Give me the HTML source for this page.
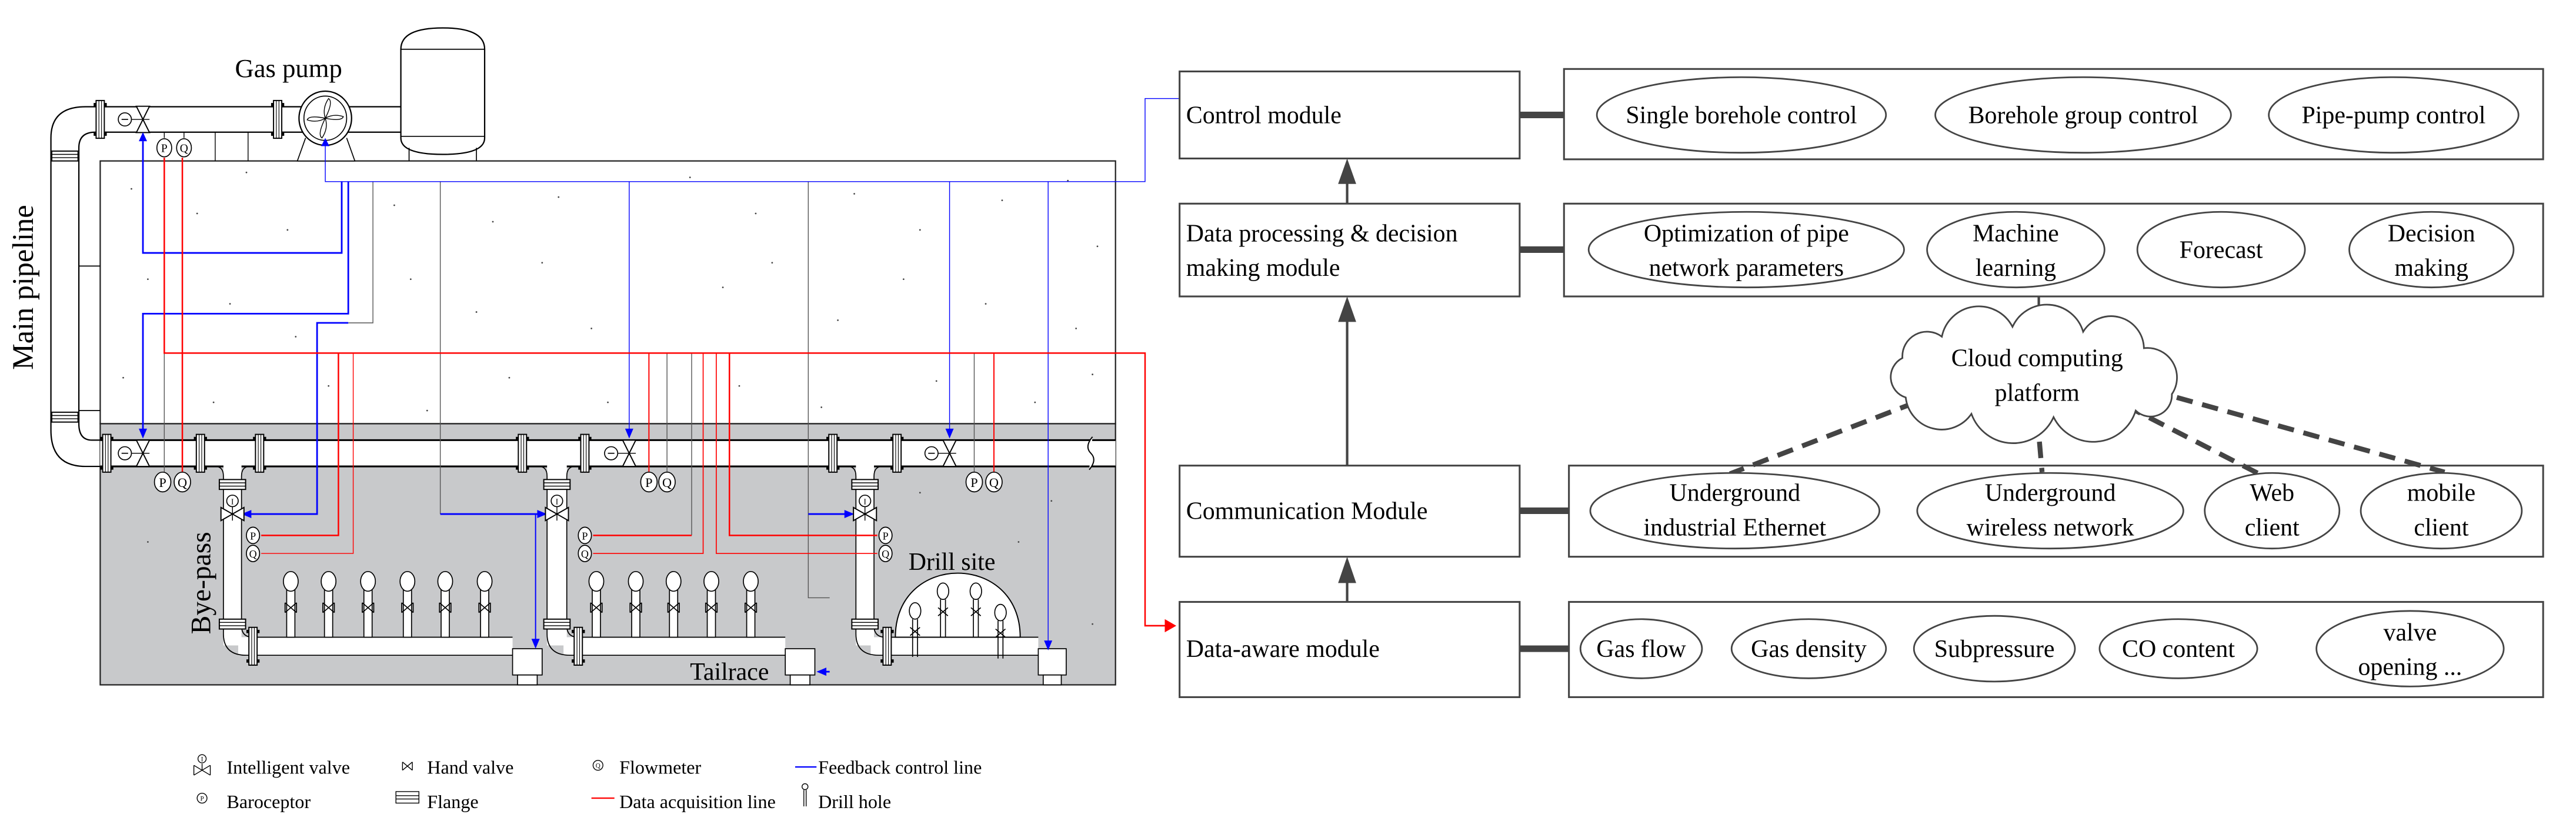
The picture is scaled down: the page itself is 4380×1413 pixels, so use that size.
<!DOCTYPE html>
<html><head><meta charset="utf-8"><style>
html,body{margin:0;padding:0;background:#fff;}
svg{display:block;font-family:"Liberation Serif","Times New Roman",serif;}
svg text{font-family:"Liberation Serif","Times New Roman",serif;fill:#000;}
</style></head><body>
<svg width="4380" height="1413" viewBox="0 0 1568 506" preserveAspectRatio="none" xmlns="http://www.w3.org/2000/svg" font-family="Liberation Serif, Times New Roman, serif">
<defs>
<g id="dh"><rect x="-2.5" y="5" width="5" height="29" fill="#fff" stroke="#000" stroke-width="0.6"/><ellipse cx="0" cy="0" rx="4.5" ry="6" fill="#fff" stroke="#000" stroke-width="0.6"/><path d="M-3.5 13 L3.5 19 M3.5 13 L-3.5 19 M-3.5 13 V19 M3.5 13 V19" stroke="#000" stroke-width="0.6" fill="none"/></g>
<g id="dhs"><ellipse cx="0" cy="0" rx="3.5" ry="5" fill="#fff" stroke="#000" stroke-width="0.6"/><path d="M-1.5 5 V28 M1.5 5 V28 M-3 10 L3 15 M3 10 L-3 15" stroke="#000" stroke-width="0.6" fill="none"/></g>
<g id="flv"><rect x="-2.5" y="-11.5" width="5" height="23" fill="#fff" stroke="#000" stroke-width="0.7"/><path d="M-0.8 -11.5 V11.5 M0.8 -11.5 V11.5" stroke="#000" stroke-width="0.4"/><rect x="-4" y="-10" width="1.5" height="2" fill="#000"/><rect x="2.5" y="-10" width="1.5" height="2" fill="#000"/><rect x="-4" y="8" width="1.5" height="2" fill="#000"/><rect x="2.5" y="8" width="1.5" height="2" fill="#000"/></g>
<g id="flh"><rect x="-8" y="-3" width="16" height="6" fill="#fff" stroke="#000" stroke-width="0.7"/><path d="M-8 -1 H8 M-8 1 H8" stroke="#000" stroke-width="0.5"/></g>
<g id="vv"><polygon points="-4,-8 4,-8 0,0" fill="#fff" stroke="#000" stroke-width="0.7"/><polygon points="-4,8 4,8 0,0" fill="#fff" stroke="#000" stroke-width="0.7"/><line x1="-7" y1="0" x2="4" y2="0" stroke="#000" stroke-width="0.5"/><circle cx="-11" cy="0" r="4" fill="#fff" stroke="#000" stroke-width="0.6"/><line x1="-13" y1="0" x2="-9" y2="0" stroke="#000" stroke-width="0.6"/></g>
<g id="vh"><polygon points="-7,-4 -7,4 0,0" fill="#fff" stroke="#000" stroke-width="0.7"/><polygon points="7,-4 7,4 0,0" fill="#fff" stroke="#000" stroke-width="0.7"/><line x1="0" y1="-4.5" x2="0" y2="4" stroke="#000" stroke-width="0.5"/><circle cx="0" cy="-8" r="3.5" fill="#fff" stroke="#000" stroke-width="0.6"/></g>
</defs>

<rect x="61" y="98" width="618" height="160" fill="#fff" stroke="#222" stroke-width="0.8"/>
<rect x="61" y="258" width="618" height="159" fill="#c8c9cb" stroke="#222" stroke-width="0.8"/>
<g fill="#444">
<circle cx="80" cy="115" r="0.5"/><circle cx="120" cy="130" r="0.5"/><circle cx="150" cy="105" r="0.5"/><circle cx="175" cy="140" r="0.5"/><circle cx="240" cy="125" r="0.5"/><circle cx="300" cy="135" r="0.5"/><circle cx="340" cy="120" r="0.5"/><circle cx="420" cy="108" r="0.5"/><circle cx="460" cy="130" r="0.5"/><circle cx="520" cy="118" r="0.5"/><circle cx="560" cy="140" r="0.5"/><circle cx="610" cy="122" r="0.5"/><circle cx="650" cy="110" r="0.5"/><circle cx="668" cy="150" r="0.5"/>
<circle cx="90" cy="170" r="0.5"/><circle cx="140" cy="185" r="0.5"/><circle cx="180" cy="205" r="0.5"/><circle cx="250" cy="170" r="0.5"/><circle cx="290" cy="190" r="0.5"/><circle cx="330" cy="160" r="0.5"/><circle cx="360" cy="200" r="0.5"/><circle cx="440" cy="175" r="0.5"/><circle cx="470" cy="160" r="0.5"/><circle cx="510" cy="195" r="0.5"/><circle cx="550" cy="170" r="0.5"/><circle cx="600" cy="185" r="0.5"/><circle cx="655" cy="200" r="0.5"/>
<circle cx="75" cy="230" r="0.5"/><circle cx="130" cy="245" r="0.5"/><circle cx="200" cy="235" r="0.5"/><circle cx="260" cy="250" r="0.5"/><circle cx="310" cy="230" r="0.5"/><circle cx="370" cy="245" r="0.5"/><circle cx="450" cy="235" r="0.5"/><circle cx="500" cy="248" r="0.5"/><circle cx="570" cy="232" r="0.5"/><circle cx="630" cy="245" r="0.5"/><circle cx="665" cy="228" r="0.5"/>
<circle cx="560" cy="300" r="0.5"/><circle cx="620" cy="330" r="0.5"/><circle cx="665" cy="380" r="0.5"/><circle cx="640" cy="305" r="0.5"/><circle cx="90" cy="330" r="0.5"/>
</g>

<path d="M244 30 Q244 17 269.5 17 Q295 17 295 30 V84 Q295 94 269.5 94 Q244 94 244 84 Z" fill="#fff" stroke="#000" stroke-width="0.8"/>
<path d="M244 30 H295 M244 83 H295 M249 90 V98 M290 90 V98" stroke="#000" stroke-width="0.6" fill="none"/>
<path d="M186 84 L181 98 H216 L211 84" fill="#fff" stroke="#000" stroke-width="0.6"/>
<path d="M131 80.5 V98 M151 80.5 V98" stroke="#000" stroke-width="0.5"/>
<path d="M31 262 V84 Q31 65 52 65 H244 M48 258 V90 Q48 80.5 58 80.5 H244 M31 262 Q31 284 52 284 H61 M48 258 Q48 268 56 268 H61" fill="none" stroke="#000" stroke-width="0.8"/>
<path d="M48 162 H61 M48 250 H61" stroke="#000" stroke-width="0.6"/>
<use href="#flh" x="39.5" y="95"/><use href="#flh" x="39.5" y="254"/>
<ellipse cx="198" cy="72" rx="16" ry="16.5" fill="#fff" stroke="#000" stroke-width="0.8"/>
<ellipse cx="198" cy="72" rx="13" ry="13.5" fill="none" stroke="#000" stroke-width="0.6"/>
<path d="M198 72 Q203 62 200 60 Q196 66 198 72 Q208 74 209 71 Q203 69 198 72 Q193 82 196 84 Q200 78 198 72 Q188 70 187 73 Q193 75 198 72" fill="#fff" stroke="#000" stroke-width="0.5"/>
<use href="#flv" x="61" y="72.7"/><use href="#flv" x="169" y="72.7"/>
<use href="#vv" x="87" y="72.7"/>
<text x="143" y="47" font-size="16">Gas pump</text>
<path d="M100 80.5 V84 M112 80.5 V84" stroke="#000" stroke-width="0.5"/>
<ellipse cx="100" cy="90" rx="4.5" ry="5.5" fill="#fff" stroke="#000" stroke-width="0.6"/><text x="100" y="92.5" font-size="7" text-anchor="middle">P</text>
<ellipse cx="112" cy="90" rx="4.5" ry="5.5" fill="#fff" stroke="#000" stroke-width="0.6"/><text x="112" y="92.5" font-size="7" text-anchor="middle">Q</text>

<rect x="61" y="268" width="618" height="16" fill="#fff"/>
<path d="M61 268 H679 M61 284 H679" stroke="#000" stroke-width="1.1"/>
<path d="M665 266 Q660 272 664 276 Q668 280 663 286" stroke="#000" stroke-width="0.7" fill="#fff"/>

<g fill="#fff" stroke="none">
<rect x="136" y="283" width="11" height="110"/><rect x="145" y="388" width="167" height="11"/>
<rect x="333" y="283" width="12" height="110"/><rect x="343" y="388" width="135" height="11"/>
<rect x="521" y="283" width="11" height="110"/><rect x="530" y="388" width="102" height="11"/>
</g>
<g fill="none" stroke="#000" stroke-width="0.6">
<path d="M131 284 Q136 284 136 290 V386 Q136 399 150 399 H312 M152 284 Q147 284 147 290 V381 Q147 388 154 388 H312"/>
<path d="M328 284 Q333 284 333 290 V386 Q333 399 347 399 H478 M350 284 Q345 284 345 290 V381 Q345 388 352 388 H478"/>
<path d="M516 284 Q521 284 521 290 V386 Q521 399 535 399 H632 M537 284 Q532 284 532 290 V381 Q532 388 539 388 H632"/>
</g>
<g fill="#fff" stroke="#000" stroke-width="0.6">
<rect x="312" y="395" width="18" height="16"/><rect x="315" y="411" width="12" height="6"/>
<rect x="478" y="395" width="18" height="16"/><rect x="481" y="411" width="12" height="6"/>
<rect x="632" y="395" width="17" height="16"/><rect x="635" y="411" width="11" height="6"/>
</g>
<use href="#dh" x="177" y="354"/><use href="#dh" x="200" y="354"/><use href="#dh" x="224" y="354"/><use href="#dh" x="248" y="354"/><use href="#dh" x="271" y="354"/><use href="#dh" x="295" y="354"/>
<use href="#dh" x="363" y="354"/><use href="#dh" x="387" y="354"/><use href="#dh" x="410" y="354"/><use href="#dh" x="433" y="354"/><use href="#dh" x="457" y="354"/>
<path d="M545 388 C545 336 621 336 621 388 Z" fill="#fff" stroke="#000" stroke-width="0.7"/>
<use href="#dhs" x="557" y="372"/><use href="#dhs" x="574" y="360"/><use href="#dhs" x="594" y="360"/><use href="#dhs" x="609" y="373"/>

<use href="#flv" x="65" y="276"/><use href="#flv" x="122" y="276"/><use href="#flv" x="158" y="276"/><use href="#flv" x="318" y="276"/><use href="#flv" x="356" y="276"/><use href="#flv" x="507" y="276"/><use href="#flv" x="546" y="276"/>
<use href="#flv" x="154" y="393.5"/><use href="#flv" x="352" y="393.5"/><use href="#flv" x="540" y="393.5"/>
<use href="#flh" x="141.5" y="295"/><use href="#flh" x="141.5" y="380"/>
<use href="#flh" x="339" y="295"/><use href="#flh" x="339" y="380"/>
<use href="#flh" x="526.5" y="295"/><use href="#flh" x="526.5" y="380"/>

<g stroke="#555" stroke-width="0.5" fill="none">
<path d="M100 215 V288"/><path d="M227 110.6 V196.6 H212"/><path d="M268 110.6 V313"/><path d="M492 110.6 V364 H505"/>
<path d="M406 215 V288"/><path d="M421 215 V326"/><path d="M593 215 V288"/>
</g>
<g stroke="#0000ff" fill="none">
<path d="M198 88 V110.6 H697 V60 H718" stroke-width="0.5"/>
<path d="M208 110.6 V154 H87 V86" stroke-width="1"/>
<path d="M212 110.6 V191 H87 V262" stroke-width="1"/>
<path d="M212 196.6 H193 V313 H151" stroke-width="1"/>
<path d="M268 313 H330" stroke-width="1"/>
<path d="M492 313 H517" stroke-width="1"/>
<path d="M383 110.6 V262" stroke-width="0.5"/>
<path d="M578 110.6 V262" stroke-width="0.5"/>
<path d="M638 110.6 V393" stroke-width="0.5"/>
<path d="M326 313 V392" stroke-width="0.7"/>
<path d="M505 409 H502" stroke-width="1"/>
</g>
<g fill="#0000ff">
<polygon points="87,80.5 84.5,86 89.5,86"/><polygon points="87,267 84.5,261 89.5,261"/>
<polygon points="147,313 153,310.5 153,315.5"/><polygon points="333,313 327,310.5 327,315.5"/><polygon points="520,313 514,310.5 514,315.5"/>
<polygon points="383,267 380.5,261 385.5,261"/><polygon points="578,267 575.5,261 580.5,261"/><polygon points="638,396 635.5,390 640.5,390"/>
<polygon points="326,395 323.5,389 328.5,389"/><polygon points="497,409 503,406.5 503,411.5"/><polygon points="198,84 195.5,89 200.5,89"/>
</g>
<g stroke="#ff0000" fill="none">
<path d="M100 96 V215 H697 V381 H710" stroke-width="0.9"/>
<path d="M111 96 V288" stroke-width="0.9"/>
<path d="M206 215 V326 H159" stroke-width="0.9"/><path d="M215 215 V337 H159" stroke-width="0.5"/>
<path d="M395 215 V288" stroke-width="0.7"/>
<path d="M421 326 H361" stroke-width="0.9"/><path d="M428 215 V337 H361" stroke-width="0.6"/>
<path d="M436 215 V337 H534" stroke-width="0.6"/><path d="M444 215 V326 H534" stroke-width="0.9"/>
<path d="M605 215 V288" stroke-width="0.7"/>
</g>
<polygon points="716,381 709,377 709,385" fill="#ff0000"/>
<use href="#vv" x="87" y="276"/><use href="#vv" x="383" y="276"/><use href="#vv" x="578" y="276"/>
<use href="#vh" x="141.5" y="313"/><use href="#vh" x="339" y="313"/><use href="#vh" x="526.5" y="313"/>
<g font-size="5" text-anchor="middle"><text x="141.5" y="307">I</text><text x="339" y="307">I</text><text x="526.5" y="307">I</text></g>
<g fill="#fff" stroke="#000" stroke-width="0.6">
<ellipse cx="99" cy="293.5" rx="5" ry="6"/><ellipse cx="111" cy="293.5" rx="5" ry="6"/>
<ellipse cx="395" cy="293.5" rx="5" ry="6"/><ellipse cx="406" cy="293.5" rx="5" ry="6"/>
<ellipse cx="593" cy="293.5" rx="5" ry="6"/><ellipse cx="605" cy="293.5" rx="5" ry="6"/>
<ellipse cx="154" cy="326" rx="4" ry="5"/><ellipse cx="154" cy="337" rx="4" ry="5"/>
<ellipse cx="356" cy="326" rx="4" ry="5"/><ellipse cx="356" cy="337" rx="4" ry="5"/>
<ellipse cx="539" cy="326" rx="4" ry="5"/><ellipse cx="539" cy="337" rx="4" ry="5"/>
</g>
<g font-size="8" text-anchor="middle">
<text x="99" y="296.5">P</text><text x="111" y="296.5">Q</text><text x="395" y="296.5">P</text><text x="406" y="296.5">Q</text><text x="593" y="296.5">P</text><text x="605" y="296.5">Q</text>
</g>
<g font-size="6.5" text-anchor="middle">
<text x="154" y="328.5">P</text><text x="154" y="339.5">Q</text><text x="356" y="328.5">P</text><text x="356" y="339.5">Q</text><text x="539" y="328.5">P</text><text x="539" y="339.5">Q</text>
</g>

<text transform="translate(20,175) rotate(-90)" font-size="18" text-anchor="middle">Main pipeline</text>
<text transform="translate(128,355) rotate(-90)" font-size="17" text-anchor="middle">Bye-pass</text>
<text x="553" y="347" font-size="15">Drill site</text>
<text x="420" y="414" font-size="15">Tailrace</text>

<g font-size="11.5">
<text x="138" y="471">Intelligent valve</text><text x="260" y="471">Hand valve</text><text x="377" y="471">Flowmeter</text><text x="498" y="471">Feedback control line</text>
<text x="138" y="492">Baroceptor</text><text x="260" y="492">Flange</text><text x="377" y="492">Data acquisition line</text><text x="498" y="492">Drill hole</text>
</g>
<g stroke="#000" stroke-width="0.5" fill="#fff">
<circle cx="123" cy="462" r="2.5"/><path d="M123 465 V469 M118 466 L128 472 M128 466 L118 472 M118 466 V472 M128 466 V472"/>
<path d="M245 464 L251 469 M251 464 L245 469 M245 464 V469 M251 464 V469"/>
<circle cx="364" cy="466" r="3"/>
<circle cx="123" cy="486" r="3"/>
<rect x="241" y="482" width="14" height="7"/><path d="M241 484.5 H255 M241 486.5 H255"/>
<circle cx="490" cy="479" r="1.8"/><path d="M489.3 481 V491 M490.7 481 V491"/>
</g>
<g font-size="4" text-anchor="middle"><text x="364" y="467.5">Q</text><text x="123" y="487.5">P</text><text x="123" y="463.5">I</text></g>
<line x1="484" y1="467" x2="497" y2="467" stroke="#0000ff" stroke-width="0.8"/>
<line x1="360" y1="486" x2="374" y2="486" stroke="#ff0000" stroke-width="0.8"/>

<g fill="#fff" stroke="#444" stroke-width="1.1">
<rect x="718" y="43.5" width="207" height="53"/>
<rect x="952" y="42" width="596" height="55"/>
<rect x="718" y="124" width="207" height="56.5"/>
<rect x="952" y="124" width="596" height="56.5"/>
<rect x="718" y="283.5" width="207" height="55.5"/>
<rect x="955" y="283.5" width="593" height="55.5"/>
<rect x="718" y="366.5" width="207" height="58"/>
<rect x="955" y="366.5" width="593" height="58"/>
</g>
<g stroke="#444" stroke-width="4">
<line x1="925" y1="70" x2="952" y2="70"/><line x1="925" y1="152" x2="952" y2="152"/><line x1="925" y1="311" x2="955" y2="311"/><line x1="925" y1="395" x2="955" y2="395"/>
</g>
<g stroke="#444" stroke-width="1.5">
<line x1="820" y1="124" x2="820" y2="108"/><line x1="820" y1="283.5" x2="820" y2="192"/><line x1="820" y1="366.5" x2="820" y2="352"/>
<line x1="1241" y1="180.5" x2="1241" y2="201"/>
</g>
<g fill="#444">
<polygon points="820,96.5 814.5,112 825.5,112"/><polygon points="820,180.5 814.5,196 825.5,196"/><polygon points="820,339 814.5,355 825.5,355"/>
</g>
<g stroke="#444" stroke-width="3" stroke-dasharray="10,6" fill="none">
<line x1="1166" y1="245" x2="1053" y2="288.5"/><line x1="1240" y1="253" x2="1243" y2="287.5"/><line x1="1294" y1="247" x2="1375" y2="288.5"/><line x1="1325" y1="242" x2="1488" y2="287.5"/>
</g>
<path d="M1160 242 A13 13 0 0 1 1158 218 A15 15 0 0 1 1182 205 A23 23 0 0 1 1225 199 A23 23 0 0 1 1268 202 A20 20 0 0 1 1305 212 A18 18 0 0 1 1322 240 A13 13 0 0 1 1300 250 A27 27 0 0 1 1250 254 A27 27 0 0 1 1200 252 A22 22 0 0 1 1160 242 Z" fill="#fff" stroke="#444" stroke-width="1"/>
<g fill="#fff" stroke="#444" stroke-width="1">
<ellipse cx="1060" cy="70" rx="88" ry="23"/><ellipse cx="1268" cy="70" rx="90" ry="23"/><ellipse cx="1457" cy="70" rx="76" ry="23"/>
<ellipse cx="1063" cy="152" rx="96" ry="23"/><ellipse cx="1227" cy="152" rx="54" ry="23"/><ellipse cx="1352" cy="152" rx="51" ry="23"/><ellipse cx="1480" cy="152" rx="50" ry="23"/>
<ellipse cx="1056" cy="311" rx="88" ry="23"/><ellipse cx="1248" cy="311" rx="81" ry="23"/><ellipse cx="1383" cy="311" rx="41" ry="23"/><ellipse cx="1486" cy="311" rx="49" ry="23"/>
<ellipse cx="999" cy="395" rx="37" ry="18"/><ellipse cx="1101" cy="395" rx="47" ry="18"/><ellipse cx="1214" cy="395" rx="49" ry="20"/><ellipse cx="1326" cy="395" rx="48" ry="18"/><ellipse cx="1467" cy="395" rx="57" ry="23"/>
</g>
<g font-size="15">
<text x="722" y="75">Control module</text>
<text x="722" y="147">Data processing &amp; decision</text><text x="722" y="168">making module</text>
<text x="722" y="316">Communication Module</text>
<text x="722" y="400">Data-aware module</text>
</g>
<g font-size="15" text-anchor="middle">
<text x="1060" y="75">Single borehole control</text><text x="1268" y="75">Borehole group control</text><text x="1457" y="75">Pipe-pump control</text>
<text x="1063" y="147">Optimization of pipe</text><text x="1063" y="168">network parameters</text>
<text x="1227" y="147">Machine</text><text x="1227" y="168">learning</text>
<text x="1352" y="157">Forecast</text>
<text x="1480" y="147">Decision</text><text x="1480" y="168">making</text>
<text x="1240" y="223">Cloud computing</text><text x="1240" y="244">platform</text>
<text x="1056" y="305">Underground</text><text x="1056" y="326">industrial Ethernet</text>
<text x="1248" y="305">Underground</text><text x="1248" y="326">wireless network</text>
<text x="1383" y="305">Web</text><text x="1383" y="326">client</text>
<text x="1486" y="305">mobile</text><text x="1486" y="326">client</text>
<text x="999" y="400">Gas flow</text><text x="1101" y="400">Gas density</text><text x="1214" y="400">Subpressure</text><text x="1326" y="400">CO content</text>
<text x="1467" y="390">valve</text><text x="1467" y="411">opening ...</text>
</g>
</svg>
</body></html>
